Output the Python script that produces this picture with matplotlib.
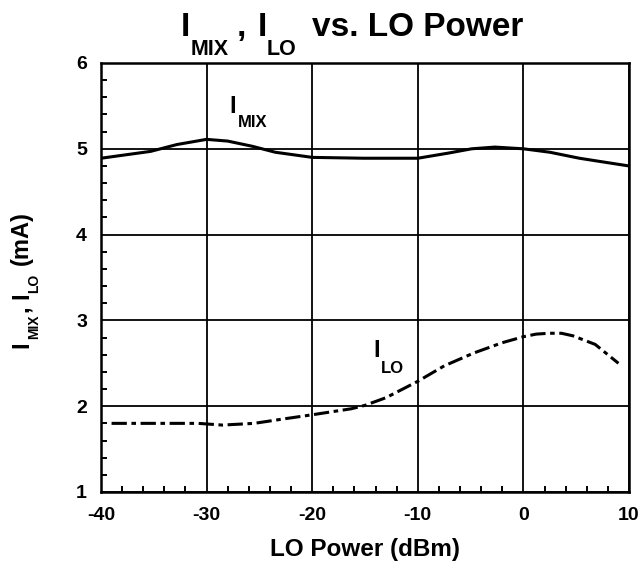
import matplotlib.pyplot as plt
from matplotlib.ticker import MultipleLocator
from matplotlib.transforms import IdentityTransform

plt.rcParams['font.family'] = ['Liberation Sans', 'DejaVu Sans']
plt.rcParams['font.weight'] = 'bold'
plt.rcParams['axes.unicode_minus'] = False

# Data
lo_power_mix = [-40, -35.3, -32.8, -30, -28, -25.7, -23.5, -20, -15.1, -10,
                -7.1, -4.9, -2.7, 0, 2.5, 5.3, 7.9, 10]
i_mix = [4.89, 4.97, 5.05, 5.11, 5.09, 5.03, 4.96, 4.90, 4.89, 4.89,
         4.95, 5.0, 5.02, 5.0, 4.96, 4.89, 4.84, 4.80]

lo_power_lo = [-39, -35, -30.8, -28.5, -25.5, -22.8, -20, -16.3, -15, -13, -10,
               -7.5, -4.7, -2, 0, 1.2, 2.4, 3.6, 4.7, 6.8, 9.0]
i_lo = [1.8, 1.8, 1.8, 1.78, 1.8, 1.85, 1.9, 1.97, 2.01, 2.1, 2.29,
        2.47, 2.62, 2.74, 2.81, 2.84, 2.85, 2.85, 2.82, 2.72, 2.5]

W, H = 640, 572
fig = plt.figure(figsize=(W / 100, H / 100), dpi=100)
ax = fig.add_axes([101 / W, 1 - 492 / H, 528 / W, 429 / H])

ax.plot(lo_power_mix, i_mix, color='black', lw=2.2)
ax.plot(lo_power_lo, i_lo, color='black', lw=2.2, linestyle=(0, (5, 1.5, 1.5, 1.5)))

ax.set_xlim(-40, 10)
ax.set_ylim(1, 6)
ax.xaxis.set_major_locator(MultipleLocator(10))
ax.xaxis.set_minor_locator(MultipleLocator(2))
ax.yaxis.set_major_locator(MultipleLocator(1))
ax.yaxis.set_minor_locator(MultipleLocator(0.2))
ax.tick_params(which='both', direction='in', width=1.4, labelsize=14)
ax.tick_params(which='major', length=0)
ax.tick_params(axis='y', which='major', pad=10)
ax.tick_params(axis='x', which='major', pad=11)
ax.tick_params(which='minor', length=4)
ax.grid(True, which='major', color='black', lw=1.3)
for s in ax.spines.values():
    s.set_linewidth(1.8)

ax.set_xlabel('LO Power (dBm)', fontsize=17.5, fontweight='bold', labelpad=10)

renderer = fig.canvas.get_renderer()


def place_pieces(x0, y0, pieces, vertical=False):
    # pieces: (text, fontsize, drop in px, gap before in px)
    pos = y0 if vertical else x0
    for text, size, drop, gap in pieces:
        pos += gap
        if vertical:
            t = fig.text(x0 + drop, pos, text, fontsize=size, fontweight='bold',
                         rotation=90, rotation_mode='anchor', ha='left',
                         va='baseline', transform=IdentityTransform())
            pos += t.get_window_extent(renderer).height
        else:
            t = fig.text(pos, y0 - drop, text, fontsize=size, fontweight='bold',
                         ha='left', va='baseline', transform=IdentityTransform())
            pos += t.get_window_extent(renderer).width


# title
place_pieces(181, H - 36, [('I', 24, 0, 0), ('MIX', 15.5, 19, 0), (',', 24, 0, 8),
                           ('I', 24, 0, 12), ('LO', 15.5, 19, 0),
                           ('vs. LO Power', 24, 0, 15)])

# y axis label
place_pieces(28, H - 348, [('I', 17, 0, 0), ('MIX', 10, 10, 2), (',', 17, 0, 3),
                           ('I', 17, 0, 6), ('LO', 10, 10, 0), ('(mA)', 17, 0, 8)],
             vertical=True)

# curve labels
for (lx, ly), sub, drop in [((-27.8, 5.42), 'MIX', 14), ((-14.24, 2.57), 'LO', 16)]:
    px, py = ax.transData.transform((lx, ly))
    place_pieces(px, py, [('I', 17, 0, 0), (sub, 12, drop, 1)])

fig.savefig('out.png', dpi=100)
